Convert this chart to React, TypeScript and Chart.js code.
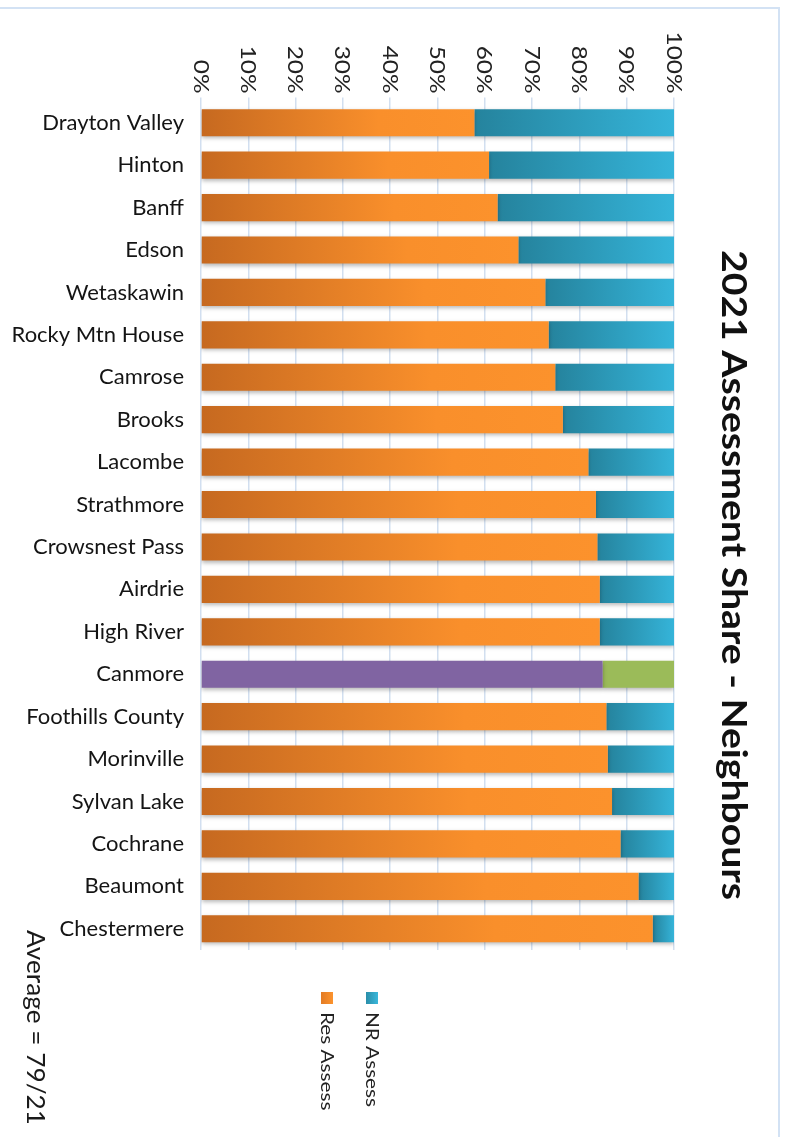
import React, { useEffect, useRef } from "react";
import { Chart, registerables } from "chart.js";

Chart.register(...registerables);

// ---------- data ----------
const categories = [
  "Drayton Valley",
  "Hinton",
  "Banff",
  "Edson",
  "Wetaskawin",
  "Rocky Mtn House",
  "Camrose",
  "Brooks",
  "Lacombe",
  "Strathmore",
  "Crowsnest Pass",
  "Airdrie",
  "High River",
  "Canmore",
  "Foothills County",
  "Morinville",
  "Sylvan Lake",
  "Cochrane",
  "Beaumont",
  "Chestermere",
];
const resAssess = [57.8, 60.9, 62.7, 67.1, 72.8, 73.5, 74.9, 76.5, 81.9, 83.5, 83.8, 84.3, 84.3, 84.9, 85.7, 86.0, 86.9, 88.7, 92.5, 95.5];
const nrAssess = [42.2, 39.1, 37.3, 32.9, 27.2, 26.5, 25.1, 23.5, 18.1, 16.5, 16.2, 15.7, 15.7, 15.1, 14.3, 14.0, 13.1, 11.3, 7.5, 4.5];
const seriesLabels = ["Res Assess", "NR Assess"];
const highlightCategory = "Canmore";
const xTickValues = [0, 10, 20, 30, 40, 50, 60, 70, 80, 90, 100];
const titleText = "2021 Assessment Share - Neighbours";
const averageNote = "Average = 79/21";

// ---------- styles ----------
const FONT = "Lato, 'Open Sans', 'DejaVu Sans', sans-serif";
const orangeStops = ["#c66920", "#f98f2b", "#fc922c"];
const blueStops = ["#25839d", "#35b4d9"];
const highlightRes = "#8064a2";
const highlightNr = "#9bbb59";
const gridColor = "#d2dff0";
const borderColor = "#d3e2f4";

function segGradient(ctx: CanvasRenderingContext2D, x0: number, x1: number, isRes: boolean) {
  const g = ctx.createLinearGradient(x0, 0, Math.max(x1, x0 + 1), 0);
  if (isRes) {
    g.addColorStop(0, orangeStops[0]);
    g.addColorStop(0.65, orangeStops[1]);
    g.addColorStop(1, orangeStops[2]);
  } else {
    g.addColorStop(0, blueStops[0]);
    g.addColorStop(1, blueStops[1]);
  }
  return g;
}

function barColor(c: any) {
  const chart = c.chart;
  const i = c.dataIndex;
  const isRes = c.datasetIndex === 0;
  if (categories[i] === highlightCategory) return isRes ? highlightRes : highlightNr;
  const xs = chart.scales && chart.scales.x;
  if (!xs || !chart.chartArea) return isRes ? orangeStops[1] : blueStops[1];
  const start = isRes ? 0 : resAssess[i];
  const end = isRes ? resAssess[i] : resAssess[i] + nrAssess[i];
  return segGradient(chart.ctx, xs.getPixelForValue(start), xs.getPixelForValue(end), isRes);
}

function drawRotated(
  ctx: CanvasRenderingContext2D,
  text: string,
  x: number,
  y: number,
  font: string,
  color: string,
  align: CanvasTextAlign,
  stretch: number
) {
  ctx.save();
  ctx.font = font;
  ctx.fillStyle = color;
  ctx.translate(x, y);
  ctx.rotate(Math.PI / 2);
  ctx.scale(stretch, 1);
  ctx.textAlign = align;
  ctx.textBaseline = "alphabetic";
  ctx.fillText(text, 0, 0);
  ctx.restore();
}

function stretchFor(ctx: CanvasRenderingContext2D, text: string, font: string, target: number) {
  ctx.save();
  ctx.font = font;
  const w = ctx.measureText(text).width;
  ctx.restore();
  return w > 0 ? target / w : 1;
}

const shadowPlugin = {
  id: "barShadow",
  beforeDatasetsDraw(chart: any) {
    const ctx = chart.ctx;
    ctx.save();
    ctx.shadowColor = "rgba(0,0,0,0.28)";
    ctx.shadowBlur = 4;
    ctx.shadowOffsetX = 0;
    ctx.shadowOffsetY = 2;
  },
  afterDatasetsDraw(chart: any) {
    chart.ctx.restore();
  },
};

const decorPlugin = {
  id: "decor",
  beforeDraw(chart: any) {
    const ctx = chart.ctx;
    ctx.save();
    ctx.fillStyle = "#ffffff";
    ctx.fillRect(0, 0, chart.width, chart.height);
    ctx.strokeStyle = borderColor;
    ctx.lineWidth = 2;
    ctx.beginPath();
    ctx.moveTo(0, 8);
    ctx.lineTo(779, 8);
    ctx.lineTo(779, chart.height);
    ctx.stroke();
    ctx.restore();
  },
  afterDraw(chart: any) {
    const ctx = chart.ctx;
    const xs = chart.scales.x;
    const area = chart.chartArea;

    // rotated x tick labels
    const tickFont = `21px ${FONT}`;
    const tickStretch = stretchFor(ctx, "100%", tickFont, 62);
    xTickValues.forEach((v) => {
      const px = xs.getPixelForValue(v);
      drawRotated(ctx, `${v}%`, px - 7.5, area.top - 8, tickFont, "#222222", "right", tickStretch);
    });

    // rotated title
    const titleFont = `bold 34px ${FONT}`;
    drawRotated(ctx, titleText, 722, 250, titleFont, "#111111", "left", stretchFor(ctx, titleText, titleFont, 650));

    // rotated legend
    const legFont = `17px ${FONT}`;
    const legStretch = stretchFor(ctx, seriesLabels[1], legFont, 95);
    const legendItems = [
      { label: seriesLabels[1], x: 366, isRes: false },
      { label: seriesLabels[0], x: 321, isRes: true },
    ];
    legendItems.forEach((it) => {
      const g = ctx.createLinearGradient(it.x, 0, it.x + 12, 0);
      if (it.isRes) {
        g.addColorStop(0, "#e27b25");
        g.addColorStop(1, "#fc932d");
      } else {
        g.addColorStop(0, "#2a8ea9");
        g.addColorStop(1, "#3ab7db");
      }
      ctx.save();
      ctx.fillStyle = g;
      ctx.fillRect(it.x, 992, 12, 12);
      ctx.restore();
      drawRotated(ctx, it.label, it.x, 1012, legFont, "#222222", "left", legStretch);
    });

    // rotated average note
    const avgFont = `25px ${FONT}`;
    drawRotated(ctx, averageNote, 27, 930, avgFont, "#1a1a1a", "left", stretchFor(ctx, averageNote, avgFont, 195));
  },
};

export default function App() {
  const ref = useRef<HTMLCanvasElement | null>(null);

  useEffect(() => {
    if (!ref.current) return;
    const chart = new Chart(ref.current, {
      type: "bar",
      data: {
        labels: categories,
        datasets: [
          {
            label: seriesLabels[0],
            data: resAssess,
            backgroundColor: barColor,
            borderWidth: 0,
            barPercentage: 0.64,
            categoryPercentage: 1,
          },
          {
            label: seriesLabels[1],
            data: nrAssess,
            backgroundColor: barColor,
            borderWidth: 0,
            barPercentage: 0.64,
            categoryPercentage: 1,
          },
        ],
      },
      options: {
        indexAxis: "y",
        responsive: false,
        animation: false,
        devicePixelRatio: 1,
        layout: { padding: { top: 0, left: 0, right: 112, bottom: 187 } },
        plugins: {
          legend: { display: false },
          title: { display: false },
          tooltip: { enabled: false },
        },
        scales: {
          x: {
            position: "top",
            stacked: true,
            min: 0,
            max: 100,
            afterBuildTicks: (scale: any) => {
              scale.ticks = xTickValues.map((v) => ({ value: v }));
            },
            afterFit: (scale: any) => {
              scale.height = 101.5;
            },
            ticks: { display: false },
            grid: {
              color: gridColor,
              lineWidth: 1.5,
              drawTicks: true,
              tickLength: 4,
            },
            border: { display: false },
          },
          y: {
            stacked: true,
            afterFit: (scale: any) => {
              scale.width = 201;
            },
            grid: { display: false, drawTicks: false },
            border: { display: false },
            ticks: {
              padding: 17,
              color: "#141414",
              font: { family: FONT, size: 22 },
            },
          },
        },
      },
      plugins: [decorPlugin, shadowPlugin],
    });
    return () => chart.destroy();
  }, []);

  return (
    <div style={{ position: "absolute", left: 0, top: 0, width: 786, height: 1137, background: "#fff" }}>
      <canvas ref={ref} width={786} height={1137} style={{ display: "block" }} />
    </div>
  );
}
